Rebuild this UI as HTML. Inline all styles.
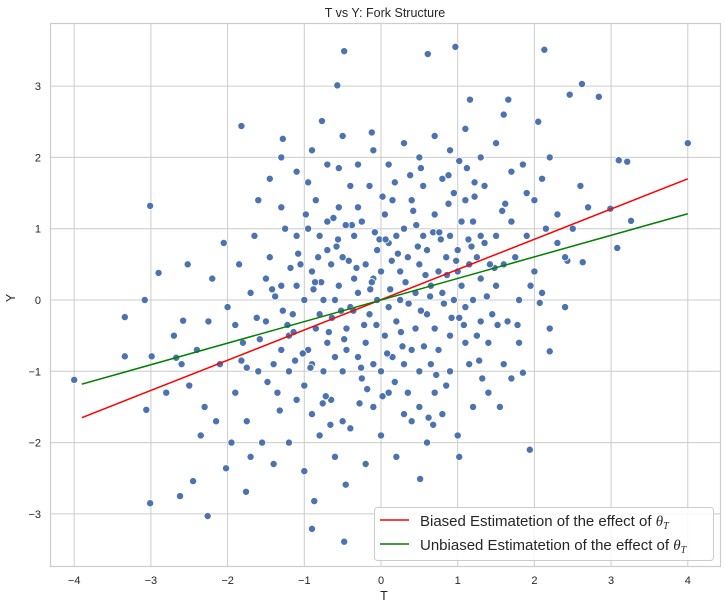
<!DOCTYPE html>
<html><head><meta charset="utf-8">
<style>
html,body{margin:0;padding:0;background:#fff;}
svg text{font-family:"Liberation Sans","DejaVu Sans",sans-serif;fill:#262626;}
</style></head>
<body>
<svg id="chart" width="726" height="610" xmlns="http://www.w3.org/2000/svg">
<g id="grid"></g>
<rect x="50.5" y="23.5" width="670" height="543" fill="none" stroke="#cccccc" stroke-width="1.2"/>
<g id="points"></g>
<g id="lines"></g>
<g id="ticks"></g>
<text x="385" y="17" font-size="12.5" text-anchor="middle">T vs Y: Fork Structure</text>
<text x="384" y="600" font-size="12.5" text-anchor="middle">T</text>
<text x="15" y="298" font-size="12.5" text-anchor="middle" transform="rotate(-90 15 298)">Y</text>
<g>
<rect x="374.5" y="507.5" width="339" height="53" rx="3" fill="#fff" fill-opacity="0.85" stroke="#cccccc"/>
<line x1="380" y1="520" x2="409" y2="520" stroke="#ff0000" stroke-width="1.5"/>
<text x="420" y="526" font-size="15">Biased Estimatetion of the effect of <tspan font-family="Liberation Serif" font-style="italic">θ</tspan><tspan font-family="Liberation Serif" font-style="italic" font-size="10" dy="3">T</tspan></text>
<line x1="380" y1="544" x2="409" y2="544" stroke="#008000" stroke-width="1.5"/>
<text x="420" y="550" font-size="15">Unbiased Estimatetion of the effect of <tspan font-family="Liberation Serif" font-style="italic">θ</tspan><tspan font-family="Liberation Serif" font-style="italic" font-size="10" dy="3">T</tspan></text>
</g>
</svg>
<script>
const xTicks=[-4,-3,-2,-1,0,1,2,3,4];
const yTicks=[-3,-2,-1,0,1,2,3];
const biasedLine=[[-3.9,-1.65],[4.0,1.70]];
const unbiasedLine=[[-3.9,-1.18],[4.0,1.21]];
const pointsT=[-4.0,-3.01,-3.08,-3.34,-3.34,-2.99,-3.06,-3.01,-2.9,-2.67,-2.58,-2.62,-2.52,-2.45,-2.26,-1.82,-1.28,-0.77,-0.57,-0.48,0.61,0.97,2.13,1.16,1.66,2.62,2.84,2.46,4.0,3.1,3.21,3.08,3.26,2.99,-0.48,-0.9,-0.87,-0.46,1.02,0.51,1.94,-1.76,-2.02,1.85,2.2,2.4,2.07,2.63,2.43,
-1.4,-1.3,-1.2,-1.1,-1.0,-0.9,-0.8,-0.7,-0.6,-0.5,-0.4,-0.3,-0.2,-0.1,0.0,0.1,0.2,0.3,0.4,0.5,0.6,0.7,0.8,0.9,1.0,1.1,1.2,1.3,1.4,1.5,
-1.45,-1.35,-1.25,-1.15,-1.05,-0.95,-0.85,-0.75,-0.65,-0.55,-0.45,-0.35,-0.25,-0.15,-0.05,0.05,0.15,0.25,0.35,0.45,0.55,0.65,0.75,0.85,0.95,1.05,1.15,1.25,1.35,1.45,
-1.5,-1.3,-1.1,-0.9,-0.7,-0.5,-0.3,-0.1,0.1,0.3,0.5,0.7,0.9,1.1,1.3,1.5,
-1.6,-1.7,-1.8,-1.9,-2.0,-2.1,-2.2,-2.3,-2.4,-2.5,-1.65,-1.75,-1.85,-1.95,-2.05,-2.15,-2.25,-2.35,-1.6,-1.7,-1.55,-1.45,-1.4,-1.3,-1.2,-1.1,-1.0,-0.9,-0.8,-0.7,-0.6,-0.5,-0.4,-0.3,-0.2,-0.1,0.0,0.1,0.2,0.3,0.4,0.5,0.6,0.7,0.8,0.9,1.0,1.1,1.2,1.3,1.4,1.5,1.6,1.7,1.8,1.9,2.0,2.1,2.2,2.3,2.4,2.5,2.6,2.7,1.6,1.7,1.8,1.9,2.0,2.1,2.2,2.3,1.65,1.75,1.85,1.95,2.05,2.15,1.55,1.6,1.7,
-0.95,-0.85,-0.75,-0.65,-0.55,-0.45,-0.35,-0.25,-0.15,-0.05,0.05,0.15,0.25,0.35,0.45,0.55,0.65,0.75,0.85,0.95,1.05,1.15,1.25,1.35,
-1.0,-0.6,-0.2,0.2,0.6,1.0,-1.2,-0.8,-0.4,0.0,0.4,0.8,1.2,-0.7,-0.3,0.1,0.5,0.9,-1.5,-1.3,-1.1,-0.9,-0.5,-0.1,0.3,0.7,1.1,1.3,-2.6,-2.8,-2.7,
-1.38,-1.22,-1.08,-0.92,-0.78,-0.62,-0.48,-0.32,-0.18,-0.02,0.12,0.28,0.42,0.58,0.72,0.88,1.02,1.18,1.32,1.48,
-1.28,-1.12,-0.98,-0.82,-0.68,-0.52,-0.38,-0.22,-0.08,0.08,0.22,0.38,0.52,0.68,0.82,0.98,1.12,1.28,1.42,1.58,
-1.32,-1.18,-1.02,-0.88,-0.72,-0.58,-0.42,-0.28,-0.12,0.02,0.18,0.32,0.48,0.62,0.78,0.92,1.08,1.22,1.38,1.52,
-1.9,-1.75,-1.62,-1.48,-0.95,-0.55,-0.12,0.18,0.52,0.88,1.22,1.62,1.78,-1.82,-1.58,-1.42,-0.66,0.02,0.68,1.02,
-0.86,-0.64,-0.36,-0.14,0.14,0.36,0.64,0.86,1.14,-1.14,-0.46,0.46,-0.26,0.26,0.76,-0.76,0.06,-0.06,0.56,-0.56];
const pointsY=[-1.12,1.32,0.0,-0.24,-0.79,-0.79,-1.54,-2.85,0.38,-0.81,-0.29,-2.75,0.5,-2.54,-3.03,2.44,2.26,2.51,3.01,3.49,3.45,3.55,3.51,2.81,2.81,3.03,2.85,2.88,2.2,1.96,1.94,0.73,1.11,1.28,-3.39,-3.21,-2.82,-2.59,-2.2,-2.51,-2.1,-2.69,-2.36,-1.02,-0.72,-0.1,-0.04,0.53,0.55,
-0.9,0.2,-0.5,0.9,-1.2,0.4,-0.2,1.1,-0.8,0.6,-0.1,1.3,-0.6,0.3,-1.0,0.8,-0.3,1.0,-0.7,0.5,-0.2,1.2,0.1,-0.5,0.7,-0.1,1.1,0.3,-0.6,0.9,
0.6,-1.3,1.0,-0.2,0.5,-0.7,1.4,0.0,-1.4,0.2,-0.4,0.9,-1.1,1.6,0.0,-0.5,1.4,0.4,-1.3,0.1,1.6,-0.9,0.4,-1.2,1.5,0.2,-0.9,0.6,1.6,-0.2,
-0.3,-0.7,0.2,-1.6,0.7,-1.0,0.1,-1.5,-0.1,-0.9,-1.5,-0.4,0.9,1.4,-0.3,0.2,
-1.0,0.1,-0.6,-1.3,-0.1,-0.9,0.3,-1.5,-0.7,-1.2,0.9,-1.7,0.5,-2.0,0.8,-1.7,-0.3,-1.9,1.4,-2.2,-2.0,1.7,-2.3,2.0,-2.0,1.8,-2.4,2.1,-1.9,1.9,-2.2,2.3,-1.8,1.9,-2.3,2.1,-1.9,1.9,-2.2,2.2,-1.7,2.0,-2.0,2.3,-1.6,2.1,-1.9,2.4,-1.5,2.0,-1.3,2.2,-0.9,1.8,-0.6,1.5,0.4,1.7,-0.4,1.2,0.6,1.0,1.6,1.3,0.5,1.1,0.0,0.9,1.4,0.1,2.0,0.8,-0.3,0.6,1.9,0.2,2.5,1.0,-1.5,2.6,-1.1,
1.0,-0.4,-1.0,0.5,1.3,-0.7,0.3,1.1,-0.2,0.7,1.2,-0.8,0.0,0.6,-0.4,0.9,0.2,-0.7,0.6,0.0,1.1,0.5,-0.5,0.8,
0.0,0.0,0.5,0.9,0.7,0.4,-1.0,0.9,1.6,0.4,1.4,1.7,0.0,-0.6,-0.8,-1.3,-1.0,-1.0,0.3,1.3,-1.4,-0.9,-1.7,-0.9,-1.6,-1.3,-0.6,0.9,-0.9,-1.3,-0.5,
0.05,-0.35,0.65,-0.95,0.25,1.15,-0.55,0.45,-1.25,0.85,0.15,-0.65,1.25,0.35,-1.05,1.35,-0.25,0.75,-1.1,0.45,
-0.15,-0.85,1.2,0.6,-0.45,-0.15,1.05,-0.35,0.95,-0.75,0.65,1.75,-0.15,0.95,-0.05,0.55,1.85,-0.85,0.5,1.25,
-1.55,0.45,-0.75,0.15,-1.35,0.75,0.55,-1.45,0.25,1.45,-1.15,0.25,0.75,-1.65,0.85,-0.25,-0.35,1.45,0.05,-0.35,
-0.35,-0.95,-0.25,-1.15,1.65,1.85,2.35,1.65,1.85,1.75,1.65,1.35,-0.35,-0.85,-0.55,0.15,-1.75,-1.35,-1.75,1.95,
0.25,-0.25,-0.15,0.15,0.55,-0.05,0.05,0.35,0.85,-0.45,1.05,1.05,-0.95,-0.45,0.95,-1.45,0.85,-0.35,-0.65,0.85];

const NS='http://www.w3.org/2000/svg';
function xs(v){return 381+v*76.7;}
function ys(v){return 300-v*71.3;}
function mk(tag,attrs,parent){const e=document.createElementNS(NS,tag);for(const k in attrs)e.setAttribute(k,attrs[k]);parent.appendChild(e);return e;}
const grid=document.getElementById('grid'),ticks=document.getElementById('ticks'),pts=document.getElementById('points'),lines=document.getElementById('lines');
xTicks.forEach(t=>{
  const l=mk('line',{x1:xs(t),x2:xs(t),y1:23,y2:566,stroke:'#cccccc','stroke-width':1},grid);
  
  
  const tx=mk('text',{x:xs(t),y:584,'font-size':11,'text-anchor':'middle'},ticks);
  tx.textContent=(t<0?'−':'')+Math.abs(t);
  
  
});
yTicks.forEach(t=>{
  const l=mk('line',{x1:50,x2:720,y1:ys(t),y2:ys(t),stroke:'#cccccc','stroke-width':1},grid);
  
  
  const tx=mk('text',{x:41,y:ys(t)+4,'font-size':11,'text-anchor':'end'},ticks);
  tx.textContent=(t<0?'−':'')+Math.abs(t);
  
  
});
for(let i=0;i<Math.min(pointsT.length,pointsY.length);i++){
  const c=mk('circle',{cx:xs(pointsT[i]),cy:ys(pointsY[i]),r:3.6,fill:'#4c72b0',stroke:'#ffffff','stroke-width':0.8},pts);
  
  
}
[[biasedLine,'#ff0000','biased-line'],[unbiasedLine,'#008000','unbiased-line']].forEach(([d,col,nm])=>{
  const l=mk('line',{x1:xs(d[0][0]),y1:ys(d[0][1]),x2:xs(d[1][0]),y2:ys(d[1][1]),stroke:col,'stroke-width':1.5},lines);
  
  
});
</script>
</body></html>
